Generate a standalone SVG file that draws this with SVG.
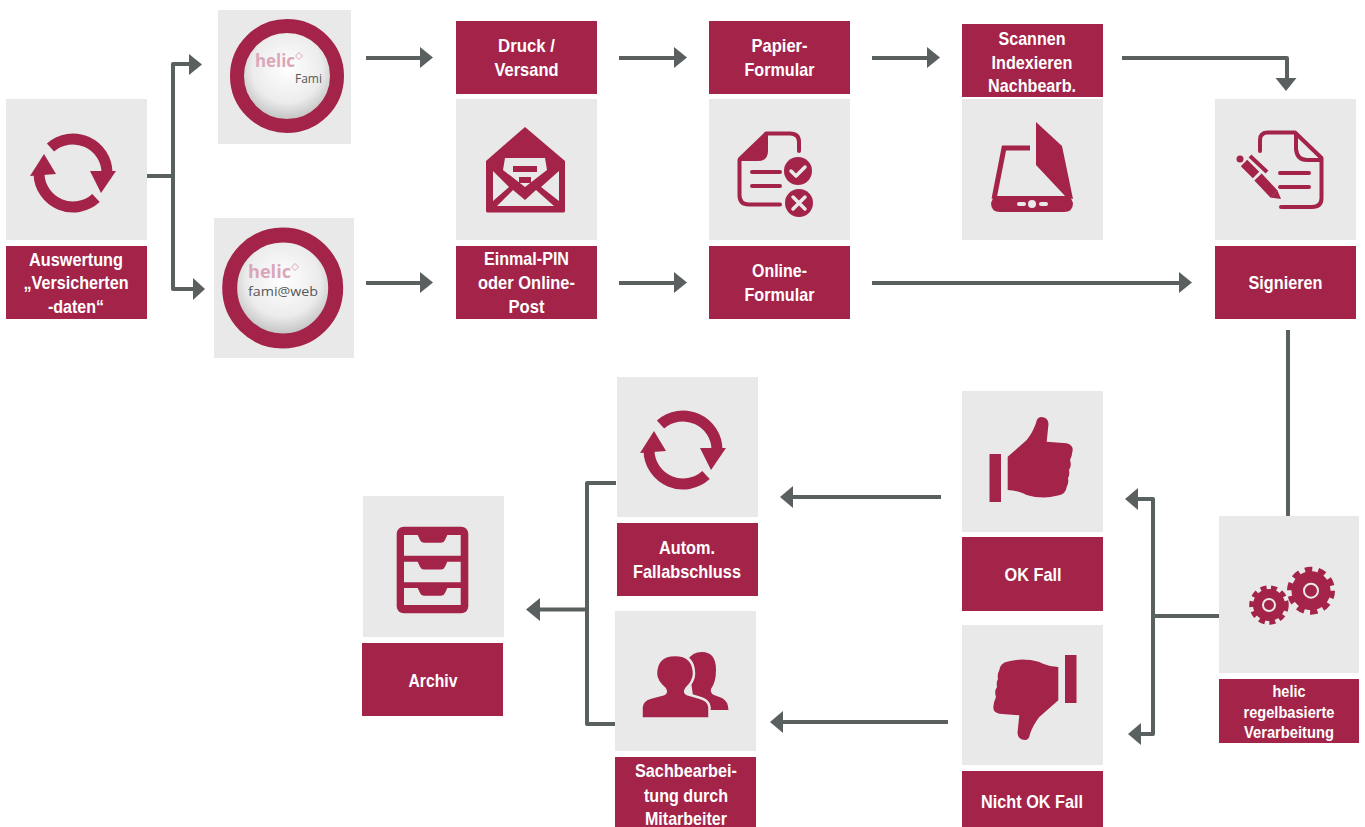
<svg xmlns="http://www.w3.org/2000/svg" xmlns:xlink="http://www.w3.org/1999/xlink" width="1365" height="827" viewBox="0 0 1365 827">
<style>
.tile{fill:#e9e9e9}
.lab{fill:#a32349}
.ic{fill:#a32349}
.cut{fill:#e9e9e9}
.st{fill:none;stroke:#a32349;stroke-linecap:round;stroke-linejoin:round}
.t{font-family:"Liberation Sans",Arial,sans-serif;font-weight:700;font-size:19px;fill:#fff;text-anchor:middle}
.s{font-size:17px}
.c{fill:none;stroke:#5a5f5f;stroke-width:4;stroke-linejoin:round}
.h{fill:#5a5f5f}
.helic{font-family:"Open Sans","Liberation Sans",sans-serif;font-weight:700;fill:#dca6ba}
.fam{font-family:"Open Sans","Liberation Sans",sans-serif;fill:#55585a}
</style>
<defs>
<radialGradient id="ball" cx="0.5" cy="0.42" r="0.58"><stop offset="0" stop-color="#fff"/><stop offset="0.6" stop-color="#ececec"/><stop offset="1" stop-color="#b4b4b4"/></radialGradient>
<g id="refresh">
<path class="st" style="stroke-linecap:butt" stroke-width="11" d="M50.500,147.500 A34,34 0 0 1 107,173"/>
<polygon class="ic" points="90,171 116,171 101,193"/>
<path class="st" style="stroke-linecap:butt" stroke-width="11" d="M96,198 A34,34 0 0 1 39,174"/>
<polygon class="ic" points="30,176 56,174 44,154"/>
</g>
<g id="thumb">
<rect class="ic" x="989.500" y="454" width="11.500" height="48"/>
<path class="ic" d="M1007.700,456.700 L1026.700,440 Q1033,432 1036,423 Q1037,417 1041,417 Q1048,417 1048.500,424 L1046.700,441.700 L1066.700,443.300 Q1073,445 1072.700,450 Q1072,456 1070,460 Q1072,466 1069,470 Q1070,475 1068,478 Q1069,483 1066.700,486.700 Q1066,494 1058,495.500 Q1048,498 1040,497.300 Q1030,497 1023,493.300 Q1015,490 1007.700,490 Z"/>
</g>
</defs>

<g id="connectors">
<path class="c" d="M147,176 H173"/>
<path class="c" d="M190,64 H173 V289 H193"/>
<polygon class="h" points="189,54 202,64.500 189,75"/>
<polygon class="h" points="193,278 205,289 193,300"/>
<path class="c" d="M366,58 H422"/><polygon class="h" points="420,47 433,57.500 420,68"/>
<path class="c" d="M366,283 H422"/><polygon class="h" points="420,272 433,282.500 420,293"/>
<path class="c" d="M619,58 H676"/><polygon class="h" points="674,47 687,57.500 674,68"/>
<path class="c" d="M619,283 H676"/><polygon class="h" points="674,272 687,282.500 674,293"/>
<path class="c" d="M872,58 H929"/><polygon class="h" points="927,47 940,57.500 927,68"/>
<path class="c" d="M872,283 H1181"/><polygon class="h" points="1179,272 1192,282.500 1179,293"/>
<path class="c" d="M1122,58 H1287 V80"/><polygon class="h" points="1275.500,78 1296.500,78 1286,91"/>
<path class="c" d="M1288,330 V516"/>
<path class="c" d="M1219,616 H1153"/>
<path class="c" d="M1136,499 H1153 V734 H1138"/>
<polygon class="h" points="1138,488 1125,499 1138,510"/>
<polygon class="h" points="1141,723 1128,734 1141,745"/>
<path class="c" d="M941,497 H790"/><polygon class="h" points="793,486 780,497 793,508"/>
<path class="c" d="M948,722 H780"/><polygon class="h" points="783,711 770,722 783,733"/>
<path class="c" d="M616,483 H587 V724 H618"/>
<path class="c" d="M587,609.500 H536"/><polygon class="h" points="540,598 526,609.500 540,621"/>
</g>

<g id="n-auswertung">
<rect class="tile" x="6" y="99" width="141" height="141"/>
<use xlink:href="#refresh" href="#refresh"/>
<rect class="lab" x="6" y="246" width="141" height="73"/>
<text class="t" x="76" y="266" textLength="94" lengthAdjust="spacingAndGlyphs">Auswertung</text>
<text class="t" x="76" y="289" textLength="105" lengthAdjust="spacingAndGlyphs">„Versicherten</text>
<text class="t" x="76" y="313" textLength="56" lengthAdjust="spacingAndGlyphs">-daten“</text>
</g>

<g id="n-fami">
<rect class="tile" x="218" y="10" width="133" height="134"/>
<circle cx="287" cy="76" r="50" fill="url(#ball)" stroke="#a32349" stroke-width="14"/>
<text class="helic" x="255" y="67" font-size="18" textLength="40" lengthAdjust="spacingAndGlyphs">helic</text>
<polygon points="299,52.500 302.500,56 299,59.500 295.500,56" fill="none" stroke="#dca6ba" stroke-width="1"/>
<text class="fam" x="295" y="83" font-size="12" textLength="27" lengthAdjust="spacingAndGlyphs">Fami</text>
</g>

<g id="n-famiweb">
<rect class="tile" x="214" y="218" width="140" height="140"/>
<circle cx="282.700" cy="288" r="53" fill="url(#ball)" stroke="#a32349" stroke-width="15"/>
<text class="helic" x="248" y="278" font-size="18" textLength="43" lengthAdjust="spacingAndGlyphs">helic</text>
<polygon points="295,263.500 298.500,267 295,270.500 291.500,267" fill="none" stroke="#dca6ba" stroke-width="1"/>
<text class="fam" x="248" y="296" font-size="13" textLength="70" lengthAdjust="spacingAndGlyphs">fami@web</text>
</g>

<g id="n-druck">
<rect class="lab" x="456" y="21" width="141" height="73"/>
<text class="t" x="526.500" y="52" textLength="57" lengthAdjust="spacingAndGlyphs">Druck /</text>
<text class="t" x="526.500" y="76" textLength="64" lengthAdjust="spacingAndGlyphs">Versand</text>
</g>

<g id="n-post">
<rect class="tile" x="456" y="99" width="141" height="141"/>
<path class="ic" d="M525,127 L565,161 V211 Q565,212.500 563,212.500 H488 Q486,212.500 486,211 V161 Z"/>
<polygon class="cut" points="505,158 545,158 547,170 525,187 503,170"/>
<rect class="ic" x="513" y="166" width="24" height="6"/>
<rect class="ic" x="519" y="177" width="12" height="6"/>
<polygon class="cut" points="493,171 509,187 493,201"/>
<polygon class="cut" points="559,171 541,187 559,201"/>
<polygon class="cut" points="497,206 513,190 525,200 536,190 554,206"/>
<rect class="lab" x="456" y="246" width="141" height="73"/>
<text class="t" x="526.500" y="265" textLength="85" lengthAdjust="spacingAndGlyphs">Einmal-PIN</text>
<text class="t" x="526.500" y="289" textLength="97" lengthAdjust="spacingAndGlyphs">oder Online-</text>
<text class="t" x="526.500" y="313" textLength="36" lengthAdjust="spacingAndGlyphs">Post</text>
</g>

<g id="n-papier">
<rect class="lab" x="709" y="21" width="141" height="73"/>
<text class="t" x="779.500" y="52" textLength="56" lengthAdjust="spacingAndGlyphs">Papier-</text>
<text class="t" x="779.500" y="76" textLength="70" lengthAdjust="spacingAndGlyphs">Formular</text>
</g>

<g id="n-online">
<rect class="tile" x="709" y="99" width="141" height="141"/>
<path class="st" stroke-width="4" d="M799,151 V142 Q799,133.500 790,133.500 H766 M739.500,160 V195 Q739.500,204.500 749,204.500 H780"/>
<path class="ic" d="M765,132 L738,158 V161 H758 Q768,161 768,151 V133 Z"/>
<path class="st" stroke-width="4" d="M752,172 H780 M752,186 H780"/>
<circle class="ic" cx="798" cy="171" r="14"/>
<circle class="ic" cx="799" cy="203" r="14"/>
<path fill="none" stroke="#e9e9e9" stroke-width="3.500" stroke-linecap="round" stroke-linejoin="round" d="M791,171 L796,176 L805,167 M793,197 L805,209 M805,197 L793,209"/>
<rect class="lab" x="709" y="246" width="141" height="73"/>
<text class="t" x="779.500" y="277" textLength="55" lengthAdjust="spacingAndGlyphs">Online-</text>
<text class="t" x="779.500" y="301" textLength="70" lengthAdjust="spacingAndGlyphs">Formular</text>
</g>

<g id="n-scannen">
<rect class="lab" x="962" y="24" width="141" height="73"/>
<text class="t" x="1032" y="45" textLength="67" lengthAdjust="spacingAndGlyphs">Scannen</text>
<text class="t" x="1032" y="69" textLength="81" lengthAdjust="spacingAndGlyphs">Indexieren</text>
<text class="t" x="1032" y="92" textLength="88" lengthAdjust="spacingAndGlyphs">Nachbearb.</text>
<rect class="tile" x="962" y="99" width="141" height="141"/>
<path class="ic" d="M1036,122 L1062,146 L1073,199 L1066,197 L1036,165 Z"/>
<path class="st" style="stroke-linejoin:miter;stroke-linecap:butt" stroke-width="5" d="M1030,148 H1004 L994,199"/>
<path class="ic" d="M994,196 H1070 L1073,203 Q1073,212 1064,212 H1000 Q991,212 991,203 Z"/>
<circle class="cut" cx="1032" cy="204" r="4"/>
<rect class="cut" x="1017" y="202" width="9" height="4" rx="2"/>
<rect class="cut" x="1039" y="202" width="9" height="4" rx="2"/>
</g>

<g id="n-signieren">
<rect class="tile" x="1215" y="99" width="141" height="141"/>
<path class="st" stroke-width="4" d="M1260,151 V140 Q1260,132.500 1268,132.500 H1295 L1321.500,158 V198 Q1321.500,207 1312,207 H1281 M1296,134 V149 Q1297,160 1307,160 H1320 M1280,173 H1309 M1280,187 H1309"/>
<circle class="ic" cx="1240" cy="159" r="3.500"/>
<g class="st" style="stroke-linecap:butt"><path stroke-width="9" d="M1244,163 L1256,175"/><path stroke-width="10" d="M1258,177 L1274,194"/><path stroke-width="4" d="M1250,156 L1267,172"/></g>
<polygon class="ic" points="1270,197.500 1277.500,190.500 1281,199"/>
<rect class="lab" x="1215" y="246" width="141" height="73"/>
<text class="t" x="1285.500" y="289" textLength="74" lengthAdjust="spacingAndGlyphs">Signieren</text>
</g>

<g id="n-regel">
<rect class="tile" x="1219" y="516" width="140" height="157"/>
<circle class="ic" cx="1311" cy="590.700" r="19.500"/>
<circle cx="1311" cy="590.700" r="21.500" fill="none" stroke="#a32349" stroke-width="5" stroke-dasharray="7.500 6"/>
<circle cx="1311" cy="590.700" r="7" fill="none" stroke="#e9e9e9" stroke-width="2"/>
<circle class="ic" cx="1269" cy="605" r="16"/>
<circle cx="1269" cy="605" r="17.500" fill="none" stroke="#a32349" stroke-width="4.500" stroke-dasharray="6 4.500"/>
<circle cx="1269" cy="605" r="6" fill="none" stroke="#e9e9e9" stroke-width="2"/>
<rect class="lab" x="1219" y="679" width="140" height="64"/>
<text class="t s" x="1289" y="697" textLength="33" lengthAdjust="spacingAndGlyphs">helic</text>
<text class="t s" x="1289" y="718" textLength="91" lengthAdjust="spacingAndGlyphs">regelbasierte</text>
<text class="t s" x="1289" y="738" textLength="90" lengthAdjust="spacingAndGlyphs">Verarbeitung</text>
</g>

<g id="n-ok">
<rect class="tile" x="962" y="391" width="141" height="141"/>
<use xlink:href="#thumb" href="#thumb"/>
<rect class="lab" x="962" y="537" width="141" height="74"/>
<text class="t" x="1033" y="581" textLength="57" lengthAdjust="spacingAndGlyphs">OK Fall</text>
</g>

<g id="n-nichtok">
<rect class="tile" x="962" y="625" width="141" height="140"/>
<use xlink:href="#thumb" href="#thumb" transform="rotate(180 1033 578.500)"/>
<rect class="lab" x="962" y="771" width="141" height="56"/>
<text class="t" x="1032" y="808" textLength="102" lengthAdjust="spacingAndGlyphs">Nicht OK Fall</text>
</g>

<g id="n-fallabschluss">
<rect class="tile" x="617" y="377" width="141" height="140"/>
<use xlink:href="#refresh" href="#refresh" transform="translate(610 277)"/>
<rect class="lab" x="617" y="523" width="141" height="73"/>
<text class="t" x="687" y="554" textLength="56" lengthAdjust="spacingAndGlyphs">Autom.</text>
<text class="t" x="687" y="578" textLength="108" lengthAdjust="spacingAndGlyphs">Fallabschluss</text>
</g>

<g id="n-sachbearbeitung">
<rect class="tile" x="615" y="611" width="141" height="140"/>
<path class="ic" d="M688,660 Q692,652 702,652 Q716,652 716,670 Q716,682 711,689 Q710,693 714,695 L722,698 Q728,701 728.500,710 H695 Z"/>
<path class="ic" stroke="#e9e9e9" stroke-width="2.500" d="M641.500,718.500 V707 Q642,700 651,697.500 L664,694 Q667,692.500 665,689 Q656,681 656,674 Q656,655 675,655 Q694,655 694,674 Q694,681 686,689 Q684,692.500 687,694 L699,697.500 Q709,700 709.500,707 V718.500 Z"/>
<rect class="lab" x="615" y="757" width="141" height="70"/>
<text class="t" x="686" y="777" textLength="102" lengthAdjust="spacingAndGlyphs">Sachbearbei-</text>
<text class="t" x="686" y="802" textLength="84" lengthAdjust="spacingAndGlyphs">tung durch</text>
<text class="t" x="686" y="825" textLength="82" lengthAdjust="spacingAndGlyphs">Mitarbeiter</text>
</g>

<g id="n-archiv">
<rect class="tile" x="363" y="496" width="141" height="141"/>
<rect class="ic" x="396.700" y="526.700" width="71.600" height="86.600" rx="7"/>
<path class="cut" d="M404,535 H417.700 L420,540 Q421,542.700 424,542.700 H441 Q444,542.700 445,540 L447.300,535 H460.700 V555.700 H404 Z"/>
<path class="cut" d="M404,561.700 H417.700 L420,566.700 Q421,569.400 424,569.400 H441 Q444,569.400 445,566.700 L447.300,561.700 H460.700 V582.300 H404 Z"/>
<path class="cut" d="M404,588 H417.700 L420,593 Q421,595.700 424,595.700 H441 Q444,595.700 445,593 L447.300,588 H460.700 V605 H404 Z"/>
<rect class="lab" x="362" y="643" width="141" height="73"/>
<text class="t" x="433" y="687" textLength="49" lengthAdjust="spacingAndGlyphs">Archiv</text>
</g>
</svg>
